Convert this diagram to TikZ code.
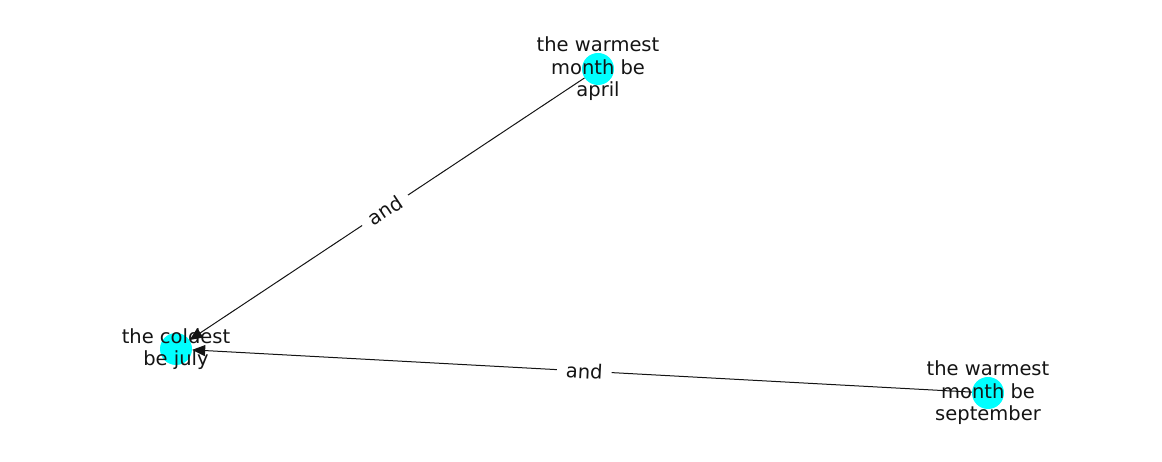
\documentclass[tikz,border=0pt]{standalone}
\usepackage{fontspec}
\setmainfont{DejaVu Sans}
\usetikzlibrary{arrows.meta}
\definecolor{nodecyan}{RGB}{0,255,255}
\definecolor{ink}{RGB}{20,20,20}
\begin{document}
\begin{tikzpicture}[x=1pt,y=1pt,
  vert/.style={circle,fill=nodecyan,draw=none,minimum size=32pt,inner sep=0pt},
  lbl/.style={align=center,font=\fontsize{19.5}{22.5}\selectfont,text=ink},
  edge/.style={draw=ink,line width=1pt,-{Triangle[length=13pt,width=11pt]}},
  elbl/.style={fill=white,font=\fontsize{19.5}{22.5}\selectfont,text=ink,inner xsep=9pt,inner ysep=3pt}]
\useasboundingbox (0,0) rectangle (1162,462);
\node[vert] (apr) at (598,393) {};
\node[vert] (jul) at (176,113) {};
\node[vert] (sep) at (988,69) {};
\draw[edge] (apr) -- (jul) node[elbl,pos=0.505,sloped] (e1) {and};
\draw[edge] (sep) -- (jul) node[elbl,pos=0.497,sloped] (e2) {and};
\node[lbl] (tapr) at (apr) {the warmest\\month be\\april};
\node[lbl] (tjul) at (jul) {the coldest\\be july};
\node[lbl] (tsep) at (sep) {the warmest\\month be\\september};
\end{tikzpicture}
\end{document}
